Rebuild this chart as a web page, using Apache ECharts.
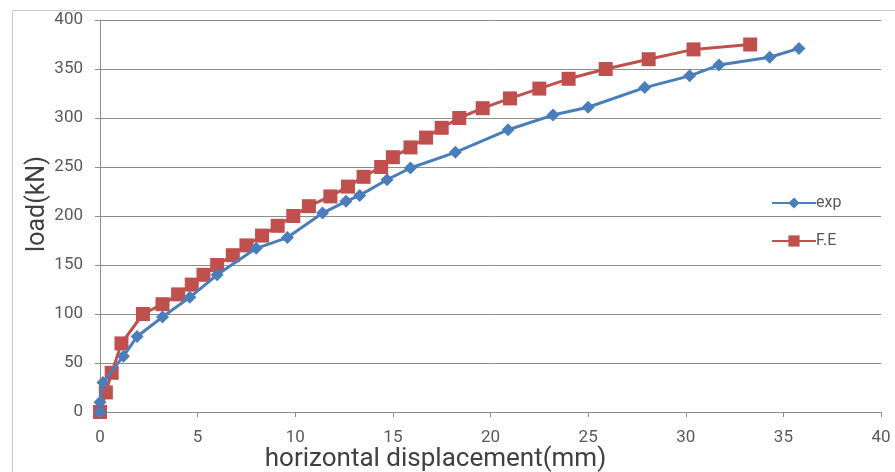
<!DOCTYPE html>
<html>
<head>
<meta charset="utf-8">
<script src="https://cdn.jsdelivr.net/npm/echarts@6/dist/echarts.min.js"></script>
<style>html,body{margin:0;padding:0;background:#fff}#c{width:895px;height:472px}</style>
</head>
<body>
<div id="c"></div>
<script>
// exp series (horizontal displacement mm, load kN)
const expX = [0, 0.0, 0.15, 1.2, 1.9, 3.2, 4.6, 6.0, 8.0, 9.6, 11.4, 12.6, 13.3, 14.7, 15.9, 18.2, 20.9, 23.2, 25.0, 27.9, 30.2, 31.7, 34.3, 35.8];
const expY = [0, 10, 30, 57, 77, 97, 117, 140, 167, 178, 203, 215, 221, 237, 249, 265, 288, 303, 311, 331, 343, 354, 362, 371];
// F.E series
const feX = [0, 0.3, 0.6, 1.1, 2.2, 3.2, 4.0, 4.7, 5.3, 6.0, 6.8, 7.5, 8.3, 9.1, 9.9, 10.7, 11.8, 12.7, 13.5, 14.4, 15.0, 15.9, 16.7, 17.5, 18.4, 19.6, 21.0, 22.5, 24.0, 25.9, 28.1, 30.4, 33.3];
const feY = [0, 20, 40, 70, 100, 110, 120, 130, 140, 150, 160, 170, 180, 190, 200, 210, 220, 230, 240, 250, 260, 270, 280, 290, 300, 310, 320, 330, 340, 350, 360, 370, 375];
const seriesNames = ['exp', 'F.E'];
const xTitle = 'horizontal displacement(mm)';
const yTitle = 'load(kN)';

const pair = (xs, ys) => xs.map((x, i) => [x, ys[i]]);
const font = 'Roboto, Open Sans, sans-serif';
const chart = echarts.init(document.getElementById('c'), null, {renderer: 'canvas'});
chart.setOption({
  animation: false,
  backgroundColor: '#fff',
  graphic: [{
    type: 'rect', left: 10, top: 8, silent: true, z: -10,
    shape: {width: 884, height: 470},
    style: {fill: 'none', stroke: '#c8c8c8', lineWidth: 1}
  }],
  grid: {left: 100, right: 14, top: 20, bottom: 60, containLabel: false, outerBoundsMode: 'none'},
  legend: {
    orient: 'vertical', left: 766, top: 190, itemGap: 22,
    itemWidth: 44, itemHeight: 14,
    textStyle: {fontFamily: font, fontSize: 16, color: '#595959', padding: [0, 0, 0, -5]},
    data: seriesNames
  },
  xAxis: {
    type: 'value', min: 0, max: 40, interval: 5,
    name: xTitle, nameLocation: 'middle', nameGap: 34, nameMoveOverlap: false,
    nameTextStyle: {fontFamily: font, fontSize: 26, color: '#404040', padding: [0, 110, 0, 0]},
    axisLine: {show: true, lineStyle: {color: '#8c8c8c'}},
    axisTick: {show: true, length: 5, lineStyle: {color: '#8c8c8c'}},
    axisLabel: {fontFamily: font, fontSize: 17, color: '#595959', margin: 17},
    splitLine: {show: false}
  },
  yAxis: {
    type: 'value', min: 0, max: 400, interval: 50,
    name: yTitle, nameLocation: 'middle', nameGap: 50, nameMoveOverlap: false,
    nameTextStyle: {fontFamily: font, fontSize: 25, color: '#404040', padding: [0, 0, 0, 24]},
    axisLine: {show: true, lineStyle: {color: '#8c8c8c'}},
    axisTick: {show: true, length: 5, lineStyle: {color: '#8c8c8c'}},
    axisLabel: {fontFamily: font, fontSize: 17, color: '#595959', margin: 17},
    splitLine: {show: true, lineStyle: {color: '#8c8c8c', width: 1}}
  },
  series: [
    {
      name: seriesNames[0], type: 'line', data: pair(expX, expY),
      symbol: 'diamond', symbolSize: 13, z: 3,
      itemStyle: {color: '#4a7ebb'},
      lineStyle: {color: '#4a7ebb', width: 3}
    },
    {
      name: seriesNames[1], type: 'line', data: pair(feX, feY),
      symbol: 'rect', symbolSize: 14, z: 2,
      itemStyle: {color: '#c0504d'},
      lineStyle: {color: '#c0504d', width: 3}
    }
  ]
});
</script>
</body>
</html>
